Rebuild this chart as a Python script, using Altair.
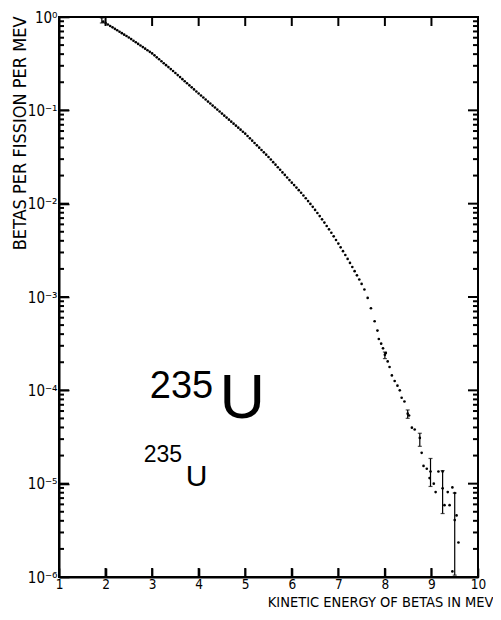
import json
import altair as alt
import pandas as pd

# ---- data (energy in MeV, log10 of betas per fission per MeV)
energy = [1.95, 2.00, 2.05, 2.10, 2.15, 2.20, 2.25, 2.30, 2.35, 2.40, 2.45, 2.50,
          2.55, 2.60, 2.65, 2.70, 2.75, 2.80, 2.85, 2.90, 2.95, 3.00,
          3.05, 3.10, 3.15, 3.20, 3.25, 3.30, 3.35, 3.40, 3.45, 3.50,
          3.55, 3.60, 3.65, 3.70, 3.75, 3.80, 3.85, 3.90, 3.95, 4.00,
          4.05, 4.10, 4.15, 4.20, 4.25, 4.30, 4.35, 4.40, 4.45, 4.50,
          4.55, 4.60, 4.65, 4.70, 4.75, 4.80, 4.85, 4.90, 4.95, 5.00,
          5.05, 5.10, 5.15, 5.20, 5.25, 5.30, 5.35, 5.40, 5.45, 5.50,
          5.55, 5.60, 5.65, 5.70, 5.75, 5.80, 5.85, 5.90, 5.95, 6.00,
          6.05, 6.10, 6.15, 6.20, 6.25, 6.30, 6.35, 6.40, 6.45, 6.50,
          6.55, 6.60, 6.65, 6.70, 6.75, 6.80, 6.85, 6.90, 6.95, 7.00,
          7.05, 7.10, 7.15, 7.20, 7.25, 7.30, 7.35, 7.40, 7.45, 7.50,
          7.56, 7.63, 7.70, 7.78, 7.84, 7.87, 7.92, 7.96, 8.00, 8.02,
          8.06, 8.10, 8.15, 8.21, 8.27, 8.32, 8.36, 8.42, 8.49, 8.52,
          8.58, 8.64, 8.75, 8.79, 8.83, 8.90, 8.96, 8.98, 9.05, 9.09,
          9.15, 9.24, 9.24, 9.28, 9.35, 9.39, 9.45, 9.50, 9.50, 9.54,
          9.58, 9.45]
log_betas = [-0.050, -0.065, -0.080, -0.096, -0.111, -0.127, -0.142, -0.158, -0.173, -0.189, -0.204, -0.220,
             -0.237, -0.254, -0.271, -0.288, -0.305, -0.322, -0.339, -0.356, -0.373, -0.390,
             -0.411, -0.432, -0.453, -0.474, -0.495, -0.516, -0.537, -0.558, -0.579, -0.600,
             -0.622, -0.644, -0.666, -0.688, -0.710, -0.732, -0.754, -0.776, -0.798, -0.820,
             -0.841, -0.863, -0.884, -0.906, -0.927, -0.949, -0.970, -0.992, -1.013, -1.035,
             -1.057, -1.078, -1.100, -1.121, -1.143, -1.164, -1.186, -1.207, -1.229, -1.250,
             -1.275, -1.300, -1.325, -1.350, -1.375, -1.400, -1.425, -1.450, -1.475, -1.500,
             -1.527, -1.555, -1.582, -1.610, -1.637, -1.665, -1.692, -1.720, -1.747, -1.775,
             -1.801, -1.828, -1.855, -1.883, -1.912, -1.942, -1.972, -2.003, -2.034, -2.067,
             -2.100, -2.133, -2.168, -2.203, -2.239, -2.275, -2.312, -2.350, -2.389, -2.428,
             -2.468, -2.509, -2.550, -2.592, -2.635, -2.679, -2.723, -2.768, -2.813, -2.860,
             -2.92, -3.01, -3.12, -3.26, -3.36, -3.45, -3.50, -3.55, -3.62, -3.60,
             -3.69, -3.75, -3.84, -3.90, -3.95, -4.00, -4.08, -4.12, -4.25, -4.27,
             -4.40, -4.42, -4.51, -4.67, -4.81, -4.84, -4.94, -4.87, -5.00, -5.09,
             -4.87, -4.87, -5.05, -5.23, -5.09, -5.23, -5.04, -5.10, -5.39, -5.34,
             -5.63, -5.94]

# error bars (energy, low and high in log10)
err_energy = [1.92, 8.00, 8.49, 8.75, 8.98, 9.24, 9.50]
err_low_log = [-0.064, -3.66, -4.30, -4.60, -5.03, -5.32, -5.98]
err_high_log = [-0.010, -3.59, -4.21, -4.46, -4.73, -4.86, -5.10]

# annotations
ann_text = ["235", "U", "235", "U"]
ann_energy = [2.95, 4.45, 2.82, 3.72]
ann_value = [8.25e-5, 5.04e-5, 1.70e-5, 9.5e-6]
ann_size = [38, 63, 23, 30]

x_ticks = [1, 2, 3, 4, 5, 6, 7, 8, 9, 10]
y_major = [1e-6, 1e-5, 1e-4, 1e-3, 1e-2, 1e-1, 1.0]
y_minor = [k * 10.0 ** e for e in range(-6, 0) for k in range(2, 10)]
y_tick_labels = ["10⁻⁶", "10⁻⁵", "10⁻⁴", "10⁻³", "10⁻²", "10⁻¹", "10⁰"]
x_range = [1, 10]
y_range = [1e-6, 1.0]

x_title = "KINETIC ENERGY OF BETAS IN MEV"
y_title = "BETAS PER FISSION PER MEV"

W, H = 419, 560
FONT = "DejaVu Sans Condensed"

# tick lengths (pixels) turned into data units of each scale
px_per_mev = W / (x_range[1] - x_range[0])
px_per_decade = H / 6.0
X_TICK_LEN = 9 / px_per_decade          # decades
Y_MAJOR_LEN = 10 / px_per_mev           # MeV
Y_MINOR_LEN = 5 / px_per_mev            # MeV

# ---- tables
pts = pd.DataFrame({"energy": energy, "betas": [10 ** v for v in log_betas]})
errs = pd.DataFrame({"energy": err_energy,
                     "betas": [10 ** v for v in err_low_log],
                     "hi": [10 ** v for v in err_high_log]})
ann = pd.DataFrame({"energy": ann_energy, "betas": ann_value, "txt": ann_text, "fs": ann_size})

n = len(x_ticks)
xtick_df = pd.DataFrame({
    "energy": x_ticks * 2,
    "e2": x_ticks * 2,
    "betas": [y_range[0]] * n + [y_range[1]] * n,
    "b2": [y_range[0] * 10 ** X_TICK_LEN] * n + [y_range[1] / 10 ** X_TICK_LEN] * n,
})
yv = y_major + y_minor
yl = [Y_MAJOR_LEN] * len(y_major) + [Y_MINOR_LEN] * len(y_minor)
ytick_df = pd.DataFrame({
    "energy": [x_range[0]] * len(yv) + [x_range[1]] * len(yv),
    "e2": [x_range[0] + L for L in yl] + [x_range[1] - L for L in yl],
    "betas": yv * 2,
    "b2": yv * 2,
})
tick_df = pd.concat([xtick_df, ytick_df], ignore_index=True)

x_scale = alt.Scale(domain=x_range, nice=False, zero=False)
y_scale = alt.Scale(type="log", domain=y_range, nice=False)

label_expr = (f"{json.dumps(y_tick_labels, ensure_ascii=False)}"
              f"[round(log(datum.value)/LN10)+6]")

# one shared axis definition per channel, used identically by every layer;
# ticks drawn inward (negative length given as an expression)
X_AXIS = alt.Axis(orient="bottom", values=x_ticks, ticks=True, tickSize={"expr": "-9"},
                  tickWidth=1.6, tickColor="black", domain=True, grid=False,
                  domainColor="black", domainWidth=2,
                  labelFont=FONT, labelFontSize=13.5, labelPadding=9, labelFlush=False,
                  title=x_title, titleFont=FONT, titleFontSize=14.5, titleFontWeight="normal",
                  titleX=W + 15, titleY=29, titleAlign="right", titleAnchor="end",
                  titleBaseline="alphabetic")
Y_AXIS = alt.Axis(orient="left", values=y_major, ticks=True, tickSize={"expr": "-10"},
                  tickWidth=1.6, tickColor="black", domain=True, grid=False,
                  domainColor="black", domainWidth=2,
                  labelExpr=label_expr, labelOverlap=False, labelFont=FONT,
                  labelFontSize=15, labelPadding=12, labelBaseline="middle",
                  title=y_title, titleFont=FONT, titleFontSize=18, titleFontWeight="normal",
                  titleX=-38.5, titleY=-1, titleAngle=-90, titleAlign="right",
                  titleAnchor="end", titleBaseline="middle")


def enc_x(field="energy"):
    return alt.X(f"{field}:Q", scale=x_scale, axis=X_AXIS, title=x_title)


def enc_y(field="betas"):
    return alt.Y(f"{field}:Q", scale=y_scale, axis=Y_AXIS, title=y_title)


points = alt.Chart(pts).mark_circle(size=7, color="black", opacity=1).encode(x=enc_x(), y=enc_y())

bars = alt.Chart(errs).mark_rule(color="black", strokeWidth=1.2).encode(
    x=enc_x(), y=enc_y(), y2="hi:Q")
caps_lo = alt.Chart(errs).mark_tick(color="black", size=4, thickness=1.2,
                                    orient="horizontal").encode(x=enc_x(), y=enc_y())
caps_hi = alt.Chart(errs).mark_tick(color="black", size=4, thickness=1.2,
                                    orient="horizontal").encode(x=enc_x(), y=enc_y("hi"))

ticks = alt.Chart(tick_df).mark_rule(color="black", strokeWidth=2).encode(
    x=enc_x(), x2="e2:Q", y=enc_y(), y2="b2:Q")

labels = alt.Chart(ann).mark_text(font="Liberation Sans", align="left", baseline="alphabetic",
                                  color="black").encode(
    x=enc_x(), y=enc_y(),
    text="txt:N",
    size=alt.Size("fs:Q", scale=None),
)

chart = alt.layer(points, bars, caps_lo, caps_hi, ticks, labels).properties(
    width=W, height=H,
    autosize=alt.AutoSizeParams(type="none"),
    padding={"left": 51, "top": 9, "right": 15, "bottom": 31},
).configure_view(stroke="black", strokeWidth=2).configure_axis(
    labelColor="black", titleColor="black",
)

chart.save("out.html", embed_options={"renderer": "svg", "actions": False})
